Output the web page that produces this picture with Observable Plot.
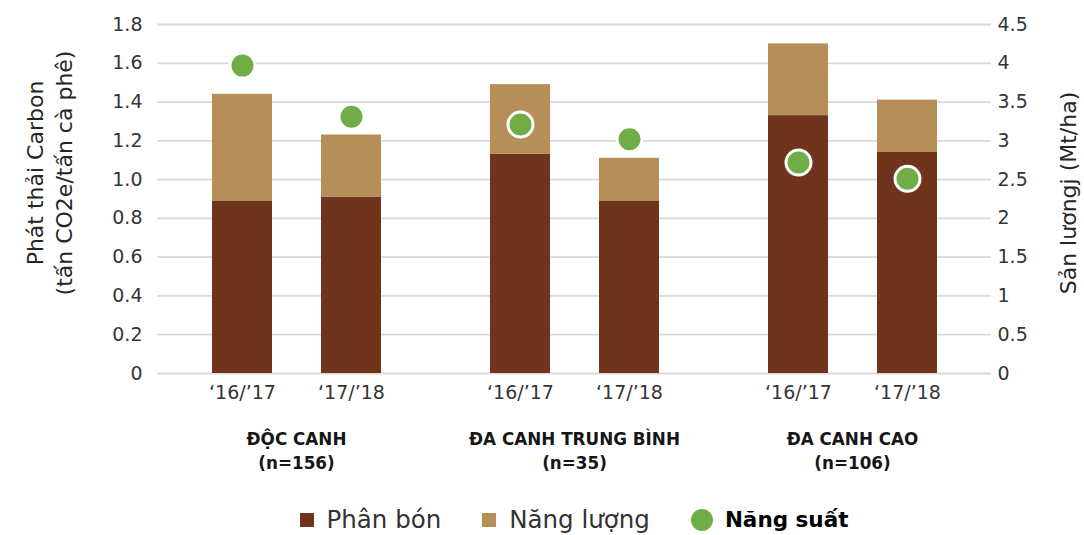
<!DOCTYPE html>
<html>
<head>
<meta charset="utf-8">
<script src="https://cdn.jsdelivr.net/npm/d3@7"></script>
<script src="https://cdn.jsdelivr.net/npm/@observablehq/plot@0.6"></script>
<style>
  html, body { margin: 0; padding: 0; background: #fff; }
  body { width: 1084px; font-family: "DejaVu Sans", sans-serif; }
  #legend {
    height: 60px;
    margin-left: 157px;
    width: 834px;
    display: flex;
    align-items: center;
    justify-content: center;
    color: #333;
  }
  .item { display: flex; align-items: center; }
  .sw { width: 14px; height: 14px; margin-right: 13px; }
  .dot { width: 22px; height: 22px; border-radius: 50%; margin-right: 12px; }
  .lab { font-size: 24.5px; line-height: 30px; }
  .gap { width: 41px; }
</style>
</head>
<body>
<div id="chart"></div>
<div id="legend"></div>
<script>
// Farm types and sample sizes
const groups = ["ĐỘC CANH", "ĐA CANH TRUNG BÌNH", "ĐA CANH CAO"];
const groupN = ["(n=156)", "(n=35)", "(n=106)"];
const seasons = ["‘16/’17", "‘17/’18"];

// Carbon emissions (t CO2e / t coffee), one value per group × season
const fertilizer = [0.89, 0.91, 1.13, 0.89, 1.33, 1.14];
const energy     = [0.55, 0.32, 0.36, 0.22, 0.37, 0.27];
// Yield (Mt/ha)
const yields     = [3.97, 3.31, 3.21, 3.02, 2.72, 2.51];

// Axis ticks
const leftTicks  = [0, 0.2, 0.4, 0.6, 0.8, 1.0, 1.2, 1.4, 1.6, 1.8];
const rightTicks = [0, 0.5, 1, 1.5, 2, 2.5, 3, 3.5, 4, 4.5];
const ratio = 4.5 / 1.8; // right axis units per left axis unit

const seriesNames = ["Phân bón", "Năng lượng"];
const seriesColors = ["#70341D", "#B68F58"];
const yieldName = "Năng suất";
const yieldColor = "#70AD47";

const rows = [];
groups.forEach((g, gi) => seasons.forEach((s, si) => {
  const i = gi * seasons.length + si;
  rows.push({group: g, season: s, part: seriesNames[0], value: fertilizer[i]});
  rows.push({group: g, season: s, part: seriesNames[1], value: energy[i]});
}));
const points = [];
groups.forEach((g, gi) => seasons.forEach((s, si) => {
  points.push({group: g, season: s, yield: yields[gi * seasons.length + si]});
}));

const chart = Plot.plot({
  width: 1084,
  height: 490,
  marginTop: 24,
  marginBottom: 117,
  marginLeft: 157,
  marginRight: 93,
  style: {fontFamily: "DejaVu Sans", color: "#353535", background: "#fff"},
  fx: {domain: groups, padding: 0, axis: null},
  x: {domain: seasons, paddingInner: 0.45, paddingOuter: 0.5},
  y: {domain: [0, 1.8], label: null},
  color: {domain: seriesNames, range: seriesColors},
  marks: [
    Plot.ruleY(leftTicks, {stroke: "#d9d9d9", strokeWidth: 1.8}),
    Plot.barY(rows, {fx: "group", x: "season", y: "value", fill: "part", order: seriesNames}),
    Plot.dot(points, {
      fx: "group", x: "season", y: d => d.yield / ratio,
      r: 12.5, fill: yieldColor, stroke: "#fff", strokeWidth: 3
    }),
    Plot.axisY({
      anchor: "left", ticks: leftTicks, label: null,
      tickFormat: d => d === 0 ? "0" : d.toFixed(1),
      tickSize: 0, tickPadding: 15, fontSize: 19
    }),
    Plot.axisX({tickSize: 0, tickPadding: 12, fontSize: 19, label: null}),
    // right axis for yield
    Plot.text(rightTicks, {
      fx: () => groups[groups.length - 1],
      y: d => d / ratio, text: d => String(d),
      frameAnchor: "right", textAnchor: "start", dx: 6,
      fontSize: 19
    }),
    // group captions under the season labels
    Plot.text(groups, {
      fx: d => d,
      text: (d, i) => d + "\n" + groupN[i],
      frameAnchor: "bottom", lineAnchor: "top", dy: 54,
      lineHeight: 1.45, fontSize: 16.8, fontWeight: "bold",
      fill: "#161616"
    }),
    // axis titles
    Plot.text(["Phát thải Carbon\n(tấn CO2e/tấn cà phê)"], {
      fx: () => groups[0],
      frameAnchor: "left", textAnchor: "middle", rotate: -90, dx: -109.5, dy: -26,
      lineAnchor: "middle", lineHeight: 1.32, fontSize: 22, fill: "#262626"
    }),
    Plot.text(["Sản lươngj (Mt/ha)"], {
      fx: () => groups[groups.length - 1],
      frameAnchor: "right", textAnchor: "middle", rotate: -90, dx: 77, dy: -6,
      lineAnchor: "middle", fontSize: 22, fill: "#262626"
    })
  ]
});
document.getElementById("chart").appendChild(chart);

// legend
const legend = document.getElementById("legend");
seriesNames.forEach((name, i) => {
  const it = document.createElement("div");
  it.className = "item";
  it.innerHTML = `<span class="sw" style="background:${seriesColors[i]}"></span><span class="lab">${name}</span>`;
  legend.appendChild(it);
  const gap = document.createElement("div");
  gap.className = "gap";
  legend.appendChild(gap);
});
const it = document.createElement("div");
it.className = "item";
it.innerHTML = `<span class="dot" style="background:${yieldColor}"></span><span class="lab" style="font-weight:bold;color:#000;font-size:21.5px">${yieldName}</span>`;
legend.appendChild(it);
</script>
</body>
</html>
